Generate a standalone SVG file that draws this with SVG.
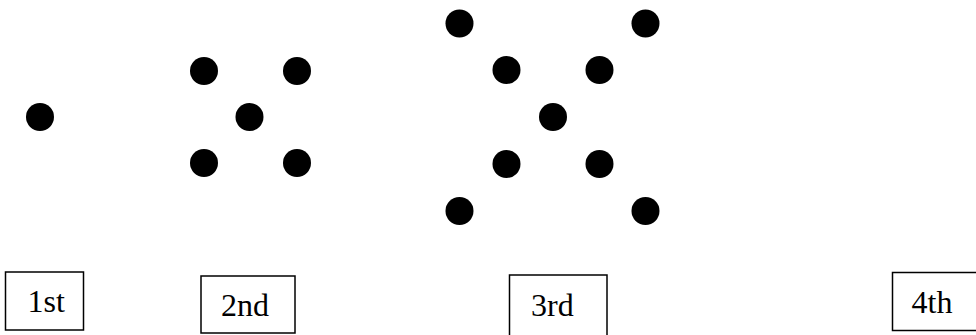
<svg xmlns="http://www.w3.org/2000/svg" width="976" height="335" viewBox="0 0 976 335">
<style>
.dot{fill:#000}
.box{fill:#fff;stroke:#000;stroke-width:1.5}
.lbl{font-family:"Liberation Serif","Times New Roman",serif;font-size:32px;fill:#000}
</style>
<rect width="976" height="335" fill="#fff"/>
<g id="pattern1">
<circle class="dot" cx="40" cy="117" r="14"/>
</g>
<g id="pattern2">
<circle class="dot" cx="204" cy="71" r="14"/>
<circle class="dot" cx="297" cy="71" r="14"/>
<circle class="dot" cx="249.5" cy="117" r="14"/>
<circle class="dot" cx="204" cy="163" r="14"/>
<circle class="dot" cx="297" cy="163" r="14"/>
</g>
<g id="pattern3">
<circle class="dot" cx="459.5" cy="23.5" r="14"/>
<circle class="dot" cx="645.5" cy="23.5" r="14"/>
<circle class="dot" cx="506.5" cy="70" r="14"/>
<circle class="dot" cx="599.5" cy="70" r="14"/>
<circle class="dot" cx="553" cy="117" r="14"/>
<circle class="dot" cx="506.5" cy="164" r="14"/>
<circle class="dot" cx="599.5" cy="164" r="14"/>
<circle class="dot" cx="459.5" cy="211" r="14"/>
<circle class="dot" cx="645.5" cy="211" r="14"/>
</g>
<g id="label1">
<rect class="box" x="5.5" y="272" width="78" height="58"/>
<text class="lbl" x="27.5" y="312">1st</text>
</g>
<g id="label2">
<rect class="box" x="201" y="276" width="94" height="57"/>
<text class="lbl" x="221" y="316">2nd</text>
</g>
<g id="label3">
<rect class="box" x="509.5" y="275" width="97.5" height="65"/>
<text class="lbl" x="531" y="316">3rd</text>
</g>
<g id="label4">
<rect class="box" x="892.5" y="272.5" width="90" height="58"/>
<text class="lbl" x="911.5" y="313">4th</text>
</g>
</svg>
